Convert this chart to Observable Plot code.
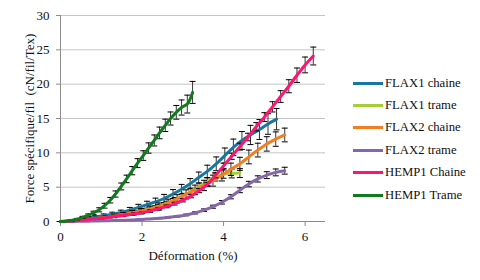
<!DOCTYPE html>
<html><head><meta charset="utf-8">
<script src="https://cdn.jsdelivr.net/npm/d3@7"></script>
<script src="https://cdn.jsdelivr.net/npm/@observablehq/plot@0.6"></script>
<style>
body{margin:0;background:#fff;}
#wrap{position:relative;width:480px;height:280px;font-family:"Liberation Serif","Times New Roman",serif;}
#chart svg, #chart svg text{font-family:"Liberation Serif","Times New Roman",serif !important;}
#legend{position:absolute;left:353px;top:72px;}
.row{display:flex;align-items:center;height:22.4px;font-size:12.7px;color:#111;white-space:nowrap;}
.sw{width:30px;height:3px;margin-right:2px;}
</style></head><body><div id="wrap"><div id="chart"></div><div id="legend"></div></div>
<script>
const seriesNames = ["FLAX1 chaine","FLAX1 trame","FLAX2 chaine","FLAX2 trame","HEMP1 Chaine","HEMP1 Trame"];
const seriesColors = ["#17779e","#a6cf36","#f47d20","#8566a8","#ff1470","#127a1e"];

const flax1ChaineX = [0,0.21,0.42,0.64,0.85,1.06,1.27,1.48,1.70,1.91,2.12,2.33,2.54,2.76,2.97,3.18,3.39,3.60,3.82,4.03,4.24,4.45,4.66,4.88,5.09,5.30];
const flax1ChaineY = [0,0.1,0.25,0.45,0.65,0.85,1.05,1.3,1.65,2.05,2.45,2.85,3.35,4.0,4.7,5.5,6.4,7.3,8.4,9.6,10.8,11.8,12.6,13.4,14.2,14.9];
const flax1ChaineErr = [0,0.05,0.1,0.15,0.2,0.25,0.3,0.35,0.4,0.45,0.5,0.55,0.6,0.65,0.7,0.75,0.8,0.9,1.0,1.1,1.2,1.3,1.4,1.45,1.5,1.55];

const flax1TrameX = [0,0.2,0.4,0.6,0.8,1.0,1.2,1.4,1.6,1.8,2.0,2.2,2.4,2.6,2.8,3.0,3.2,3.4,3.6,3.8,4.0,4.2,4.4];
const flax1TrameY = [0,0.05,0.12,0.25,0.38,0.5,0.68,0.85,1.05,1.3,1.55,1.85,2.2,2.65,3.15,3.7,4.4,5.1,5.8,6.5,6.9,7.0,7.05];
const flax1TrameErr = [0,0.05,0.05,0.1,0.1,0.1,0.15,0.15,0.2,0.2,0.25,0.25,0.3,0.3,0.35,0.4,0.45,0.5,0.55,0.6,0.6,0.65,0.65];

const flax2ChaineX = [0,0.22,0.44,0.66,0.88,1.10,1.32,1.54,1.76,1.98,2.20,2.42,2.64,2.86,3.08,3.30,3.52,3.74,3.96,4.18,4.40,4.62,4.84,5.06,5.28,5.50];
const flax2ChaineY = [0,0.05,0.15,0.3,0.45,0.6,0.8,1.0,1.25,1.5,1.8,2.2,2.7,3.3,3.95,4.6,5.25,5.95,6.75,7.6,8.4,9.4,10.4,11.3,12.0,12.6];
const flax2ChaineErr = [0,0.05,0.1,0.1,0.15,0.2,0.25,0.3,0.35,0.4,0.45,0.5,0.55,0.6,0.65,0.7,0.75,0.8,0.85,0.9,0.95,1.0,1.0,1.05,1.05,1.0];

const flax2TrameX = [0,0.22,0.44,0.66,0.88,1.10,1.32,1.54,1.76,1.98,2.20,2.42,2.64,2.86,3.08,3.30,3.52,3.74,3.96,4.18,4.40,4.62,4.84,5.06,5.28,5.50];
const flax2TrameY = [0,0.01,0.03,0.05,0.08,0.1,0.13,0.17,0.23,0.3,0.38,0.47,0.6,0.75,0.95,1.25,1.65,2.15,2.8,3.6,4.55,5.45,6.2,6.75,7.15,7.4];
const flax2TrameErr = [0,0,0,0,0,0.01,0.02,0.03,0.04,0.05,0.06,0.07,0.08,0.1,0.12,0.15,0.18,0.22,0.26,0.3,0.35,0.4,0.45,0.5,0.5,0.5];

const hemp1ChaineX = [0,0.2,0.4,0.6,0.8,1.0,1.2,1.4,1.6,1.8,2.0,2.2,2.4,2.6,2.8,3.0,3.2,3.4,3.6,3.8,4.0,4.2,4.4,4.6,4.8,5.0,5.2,5.4,5.6,5.8,6.0,6.2];
const hemp1ChaineY = [0,0.05,0.15,0.25,0.4,0.5,0.65,0.8,0.95,1.1,1.3,1.55,1.85,2.2,2.6,3.1,3.7,4.5,5.4,6.7,8.1,9.5,10.9,12.3,13.8,15.2,16.7,18.2,19.7,21.3,22.8,24.1];
const hemp1ChaineErr = [0,0,0.05,0.05,0.05,0.1,0.1,0.1,0.1,0.15,0.15,0.15,0.2,0.2,0.2,0.25,0.25,0.3,0.3,0.35,0.4,0.45,0.5,0.55,0.6,0.65,0.75,0.85,0.95,1.05,1.15,1.3];

const hemp1TrameX = [0,0.14,0.27,0.41,0.54,0.68,0.81,0.95,1.08,1.22,1.35,1.49,1.62,1.76,1.89,2.03,2.16,2.30,2.43,2.57,2.70,2.84,2.97,3.11,3.24];
const hemp1TrameY = [0,0.05,0.15,0.35,0.6,0.9,1.25,1.7,2.3,3.1,4.0,5.1,6.2,7.4,8.5,9.6,10.7,11.8,12.9,14.0,15.0,15.9,16.6,17.1,18.8];
const hemp1TrameErr = [0,0.05,0.1,0.1,0.15,0.2,0.25,0.3,0.35,0.4,0.45,0.5,0.55,0.6,0.65,0.7,0.75,0.8,0.85,0.9,0.95,1.0,1.1,1.3,1.6];

const xTicks = [0,2,4,6];
const yTicks = [0,5,10,15,20,25,30];

const seriesX = [flax1ChaineX, flax1TrameX, flax2ChaineX, flax2TrameX, hemp1ChaineX, hemp1TrameX];
const seriesY = [flax1ChaineY, flax1TrameY, flax2ChaineY, flax2TrameY, hemp1ChaineY, hemp1TrameY];
const seriesErr = [flax1ChaineErr, flax1TrameErr, flax2ChaineErr, flax2TrameErr, hemp1ChaineErr, hemp1TrameErr];

const tables = seriesNames.map((name, i) => seriesX[i].map((x, j) => ({
  s: name, x, y: seriesY[i][j], lo: seriesY[i][j] - seriesErr[i][j], hi: seriesY[i][j] + seriesErr[i][j]
})));

const cap = {draw(ctx, size) { const w = Math.sqrt(size / Math.PI); ctx.moveTo(-w, 0); ctx.lineTo(w, 0); }};

const seriesMarks = tables.flatMap((t, i) => {
  const marks = [];
  marks.push(Plot.ruleX(t.filter(d => d.hi > d.lo), {x: "x", y1: "lo", y2: "hi", stroke: "#000", strokeWidth: 0.8}));
  marks.push(Plot.dot(t, {x: "x", y: "hi", symbol: cap, r: 3, stroke: "#000", fill: "none", strokeWidth: 1}));
  marks.push(Plot.dot(t, {x: "x", y: "lo", symbol: cap, r: 3, stroke: "#000", fill: "none", strokeWidth: 1}));
  marks.push(Plot.line(t, {x: "x", y: "y", stroke: seriesColors[i], strokeWidth: 3, curve: "catmull-rom"}));
  return marks;
});

const chart = Plot.plot({
  width: 480, height: 280,
  marginLeft: 60, marginRight: 155, marginTop: 15, marginBottom: 59,
  style: {fontSize: "13px", color: "#111", background: "#fff"},
  x: {domain: [0, 6.5]},
  y: {domain: [0, 30]},
  marks: [
    Plot.gridY(yTicks.slice(1), {stroke: "#c4c4c4", strokeOpacity: 1, strokeWidth: 1}),
    Plot.axisY(yTicks, {tickSize: 4, tickPadding: 7, stroke: "#8c8c8c", fontSize: 13, label: "Force spécifique/fil\u00a0 (cN/fil/Tex)", labelAnchor: "center", labelOffset: 36, labelArrow: "none"}),
    Plot.axisX(xTicks, {tickSize: 5, tickPadding: 5, stroke: "#8c8c8c", fontSize: 13, label: "Déformation (%)", labelAnchor: "center", labelOffset: 38, labelArrow: "none"}),
    Plot.ruleX([0], {stroke: "#8c8c8c"}),
    Plot.ruleY([0], {stroke: "#8c8c8c"}),
    ...seriesMarks
  ]
});
chart.querySelectorAll("text").forEach(t => t.setAttribute("xml:space", "preserve"));
document.getElementById("chart").appendChild(chart);

const legend = document.getElementById("legend");
seriesNames.forEach((name, i) => {
  const row = document.createElement("div");
  row.className = "row";
  const sw = document.createElement("span");
  sw.className = "sw";
  sw.style.background = seriesColors[i];
  const lab = document.createElement("span");
  lab.textContent = name;
  row.appendChild(sw); row.appendChild(lab);
  legend.appendChild(row);
});
</script></body></html>
